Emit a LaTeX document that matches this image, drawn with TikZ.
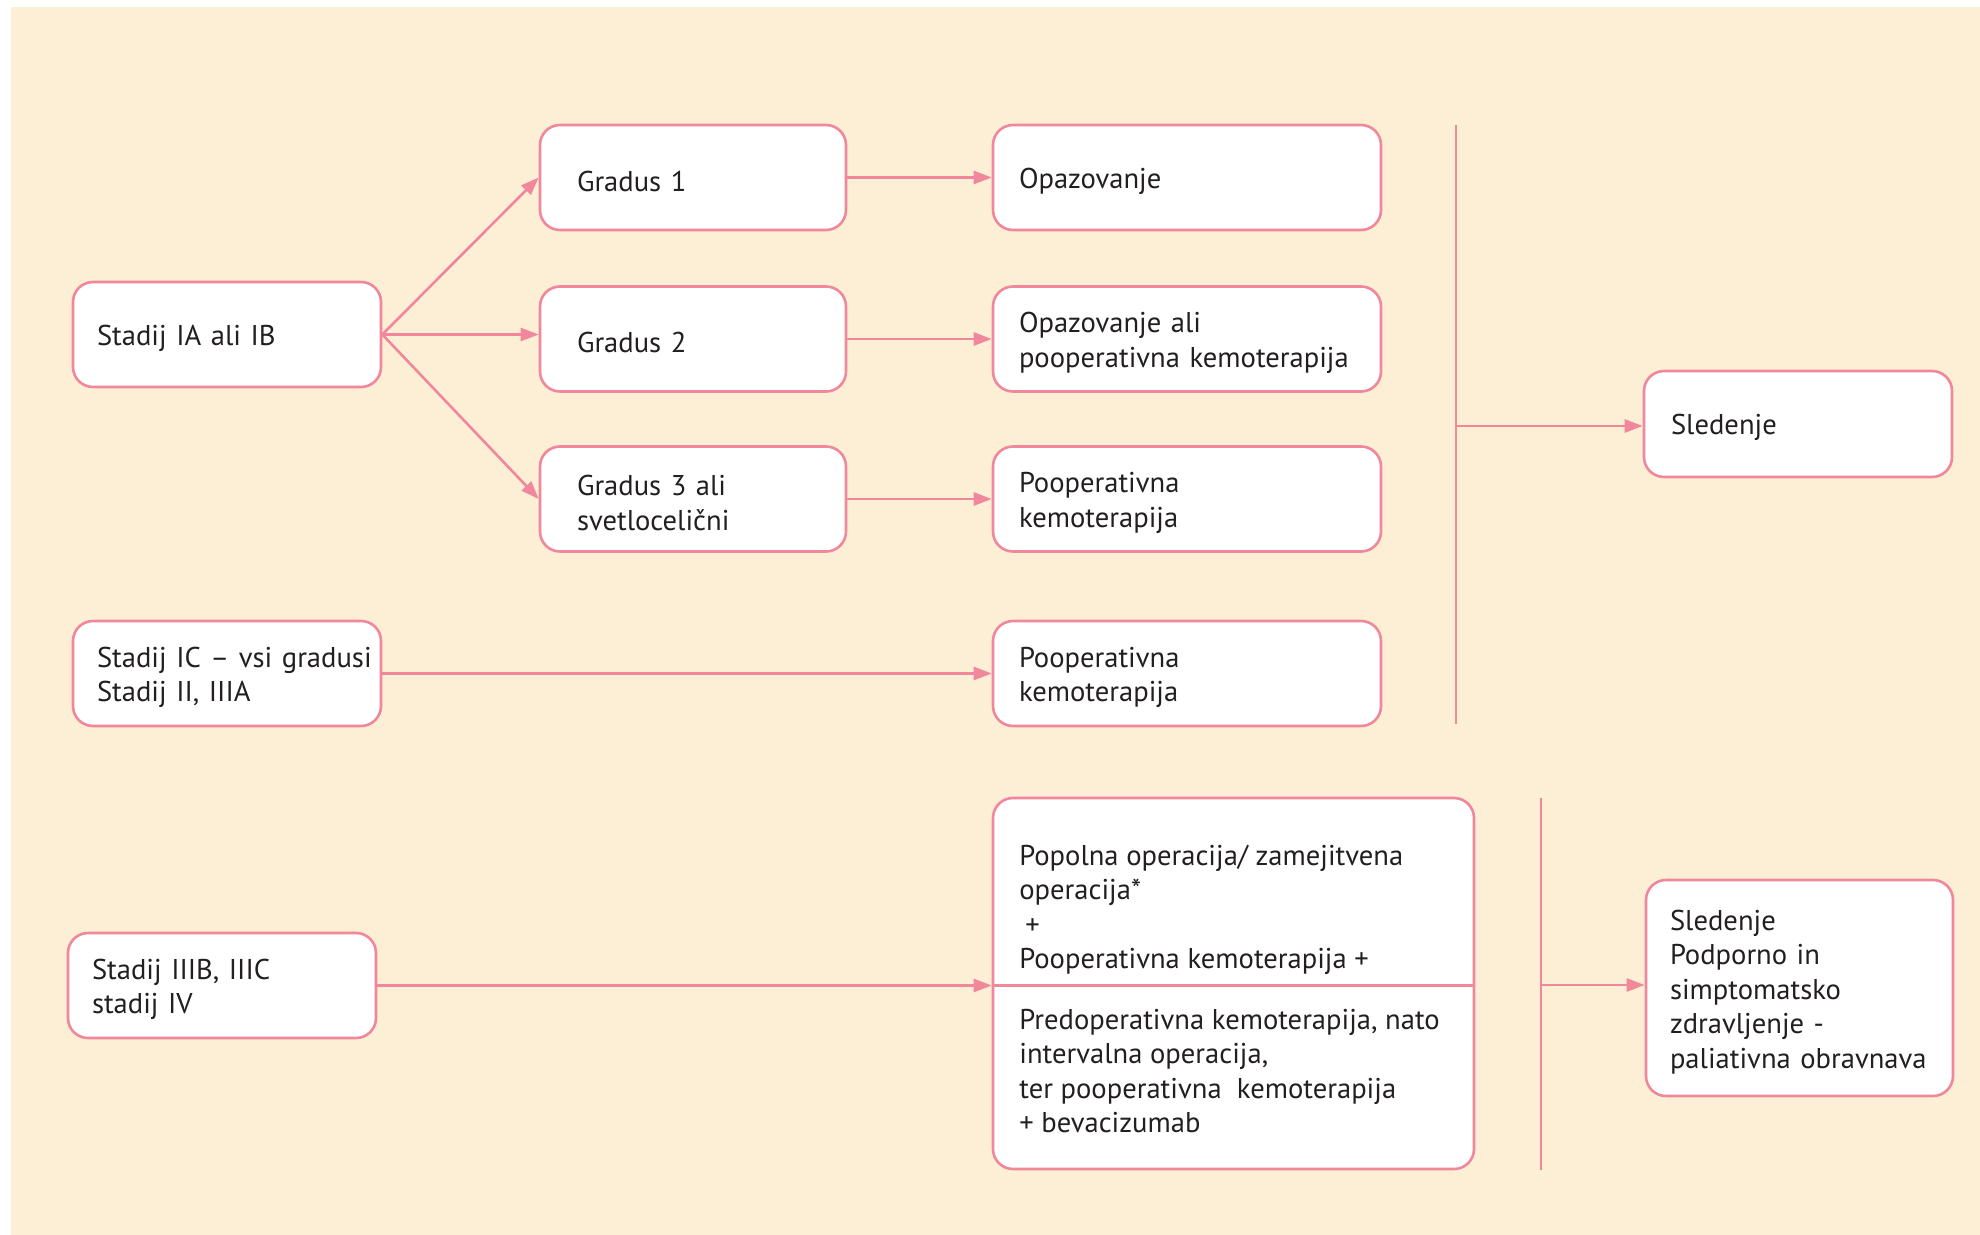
\documentclass[tikz,border=0pt]{standalone}
\usepackage{fontspec}
\setmainfont{PT Sans}
\usetikzlibrary{arrows.meta}
\definecolor{bgcream}{HTML}{FDEFD5}
\definecolor{rosa}{HTML}{F0879B}
\definecolor{ink}{HTML}{231F20}

\begin{document}
\begin{tikzpicture}[x=0.5pt,y=-0.5pt,
    box/.style={draw=rosa,fill=white,line width=1.3pt,rounded corners=10pt,
      minimum height=52.5pt,align=left,text=ink,inner xsep=12pt,
      font=\fontsize{14.3}{17.25}\selectfont,
      execute at begin node={\rule{0pt}{14pt}}},
    stadbox/.style={box,text width=130pt},
    gradbox/.style={box,text width=116pt,inner xsep=18.5pt},
    obox/.style={box,text width=168pt,inner xsep=13pt},
    slbox/.style={box,text width=127pt,inner xsep=13.5pt,minimum height=53pt},
    slbigbox/.style={box,text width=129.5pt,minimum height=108pt},
    bigbox/.style={draw=rosa,fill=white,line width=1.3pt,rounded corners=10pt,
      minimum width=240.5pt,minimum height=185.5pt},
    txt/.style={align=left,text=ink,inner sep=0pt,font=\fontsize{14.3}{17.25}\selectfont},
    link/.style={draw=rosa,line width=1.3pt,-{Triangle[length=9pt,width=6.5pt]}},
    bar/.style={draw=rosa,line width=1.3pt}]
  \useasboundingbox (0,0) rectangle (1980,1235);
  \fill[bgcream] (11,7) rectangle (1980,1235);

  \node[stadbox] (ia) at (227,334.5) {Stadij IA ali IB};
  \node[gradbox] (g1) at (693,177.5) {Gradus 1};
  \node[gradbox] (g2) at (693,339) {Gradus 2};
  \node[gradbox] (g3) at (693,499) {Gradus 3 ali\\svetlocelični};
  \node[obox] (o1) at (1187,177.5) {Opazovanje};
  \node[obox] (o2) at (1187,339) {Opazovanje ali\\\mbox{pooperativna kemoterapija}};
  \node[obox] (o3) at (1187,499) {Pooperativna\\kemoterapija};
  \node[stadbox] (ic) at (227,673.5) {\mbox{Stadij IC – vsi gradusi}\\Stadij II, IIIA};
  \node[obox] (o4) at (1187,673.5) {Pooperativna\\kemoterapija};
  \node[slbox] (sl1) at (1798,424) {Sledenje};

  \node[stadbox] (iiib) at (222,985.5) {Stadij IIIB, IIIC\\stadij IV};
  \node[bigbox] (big) at (1233.5,983.5) {};
  \node[txt,anchor=west] (bigtop) at (1019,910)
    {Popolna operacija/ zamejitvena\\operacija*\\\hspace{3pt}+\\Pooperativna kemoterapija +};
  \node[txt,anchor=west] (bigbot) at (1019,1071)
    {Predoperativna kemoterapija, nato\\intervalna operacija,\\ter pooperativna\ \ kemoterapija\\+ bevacizumab};
  \node[slbigbox] (sl2) at (1799.5,988)
    {Sledenje\\Podporno in\\simptomatsko\\zdravljenje -\\\mbox{paliativna obravnava}};

  \coordinate (v1t) at (1456,125);
  \coordinate (v1b) at (1456,724);
  \coordinate (v1m) at (1456,426);
  \coordinate (v2t) at (1541,798);
  \coordinate (v2b) at (1541,1170);
  \coordinate (v2m) at (1541,985);

  \draw[link] (ia.east) -- (g1.west);
  \draw[link] (ia.east) -- (ia.east -| g2.west);
  \draw[link] (ia.east) -- (g3.west);
  \draw[link] (g1.east) -- (o1.west);
  \draw[link] (g2.east) -- (o2.west);
  \draw[link] (g3.east) -- (o3.west);
  \draw[link] (ic.east) -- (o4.west);
  \draw[bar] (v1t) -- (v1b);
  \draw[link] (v1m) -- (v1m -| sl1.west);

  \draw[link] (iiib.east) -- (iiib.east -| big.west);
  \draw[bar] (big.west |- iiib.east) -- (big.east |- iiib.east);
  \draw[bar] (v2t) -- (v2b);
  \draw[link] (v2m) -- (v2m -| sl2.west);
\end{tikzpicture}
\end{document}
